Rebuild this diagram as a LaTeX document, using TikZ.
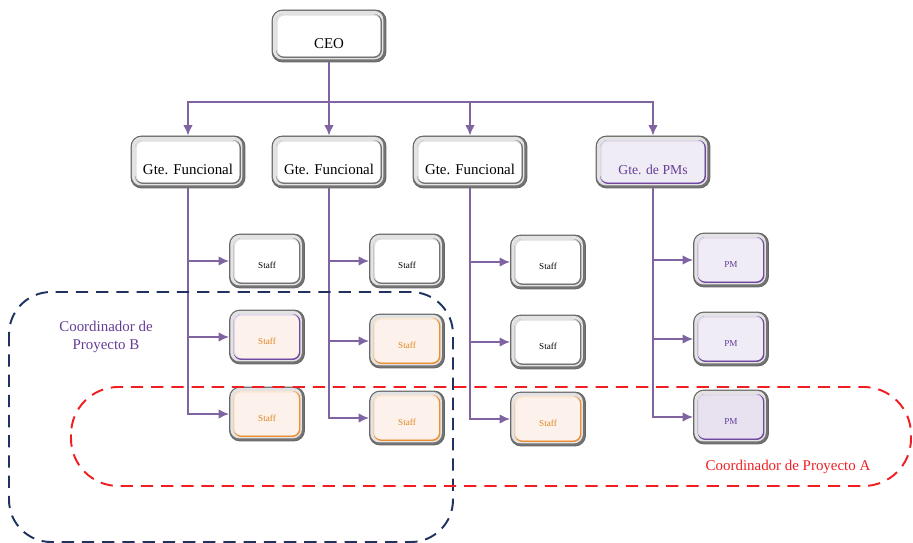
\documentclass[tikz,border=0pt]{standalone}
\usepackage{fontspec}
\setmainfont{Liberation Serif}
\usepackage{xcolor}
\usetikzlibrary{shapes,arrows,positioning,calc,arrows.meta}

\definecolor{linkpurple}{RGB}{128,100,162}
\definecolor{pmline}{RGB}{112,72,160}
\definecolor{pmfill}{RGB}{240,236,245}
\definecolor{pmtxt}{RGB}{100,60,150}
\definecolor{orline}{RGB}{236,142,52}
\definecolor{orfill}{RGB}{253,242,235}
\definecolor{ortxt}{RGB}{222,132,30}
\definecolor{projblue}{RGB}{31,50,96}
\definecolor{projred}{RGB}{240,30,35}
\colorlet{plainline}{black!55}

\begin{document}
\begin{tikzpicture}[x=0.02cm, y=-0.02cm, >={Latex[length=6pt,width=5.5pt]},
				orgbox/.style 2 args={rectangle, rounded corners=6pt, draw=black!60, line width=0.5pt, fill=black!55,
					path picture={
						\fill[gray!22, rounded corners=5pt]
							([shift={(0.5pt,1.5pt)}]path picture bounding box.south west) rectangle
							([shift={(-1.5pt,-0.5pt)}]path picture bounding box.north east);
						\fill[#2, rounded corners=4.5pt]
							([shift={(2.3pt,2.3pt)}]path picture bounding box.south west) rectangle
							([shift={(-2.3pt,-2.3pt)}]path picture bounding box.north east);
						\fill[#2!22, rounded corners=4.2pt]
							([shift={(2.3pt,3.2pt)}]path picture bounding box.south west) rectangle
							([shift={(-3.2pt,-2.3pt)}]path picture bounding box.north east);
						\fill[#1, rounded corners=3.8pt]
							([shift={(3.2pt,3.2pt)}]path picture bounding box.south west) rectangle
							([shift={(-3.2pt,-3.2pt)}]path picture bounding box.north east);
					}},
				big/.style={minimum width=2.28cm, minimum height=1.04cm, inner sep=1pt, text height=14pt, text depth=0pt, font=\fontsize{8.5}{10}\selectfont},
				small/.style={minimum width=1.5cm, minimum height=1.08cm, inner sep=1pt, text height=9pt, text depth=0pt, font=\fontsize{5.2}{6}\selectfont},
				headbox/.style={orgbox={white}{plainline}, big},
				pmhead/.style={orgbox={pmfill}{pmline}, big, text=pmtxt},
				staff/.style={orgbox={white}{plainline}, small},
				stafforange/.style={orgbox={orfill}{orline}, small, text=ortxt},
				staffmixed/.style={orgbox={orfill}{pmline}, small, text=ortxt},
				pm/.style={orgbox={pmfill}{pmline}, small, text=pmtxt},
				link/.style={draw=linkpurple, line width=1pt, ->},
				project/.style={line width=1.1pt, dash pattern=on 7pt off 4.5pt, rounded corners=#1}
				]
				\useasboundingbox (0,0) rectangle (913,543);
				
				\node[headbox] (ceo) at (329,36) {CEO};
				\node[headbox] (gte1) at (188,162) {Gte. Funcional};
				\node[headbox] (gte2) at (329,162) {Gte. Funcional};
				\node[headbox] (gte3) at (470,162) {Gte. Funcional};
				\node[pmhead, font=\fontsize{7.8}{9}\selectfont] (gtepm) at (653,162) {Gte. de PMs};
				\coordinate (bus) at (329,102);
				
				\node[staff] (s11) at (267,261) {Staff};
				\node[staffmixed] (s12) at (267,337) {Staff};
				\node[stafforange] (s13) at (267,414) {Staff};
				\node[staff] (s21) at (407,261) {Staff};
				\node[stafforange] (s22) at (407,341) {Staff};
				\node[stafforange] (s23) at (407,418) {Staff};
				\node[staff] (s31) at (548,262) {Staff};
				\node[staff] (s32) at (548,342) {Staff};
				\node[stafforange] (s33) at (548,419) {Staff};
				\node[pm] (pm1) at (731,260) {PM};
				\node[pm] (pm2) at (731,339) {PM};
				\node[pm, orgbox={pmfill!94!pmline}{pmline}] (pm3) at (731,417) {PM};
				
				\draw[link] (ceo) -- (gte2);
				\draw[link] (bus) -| (gte1);
				\draw[link] (bus) -| (gte3);
				\draw[link] (bus) -| (gtepm);
				
				\draw[link] (gte1) |- (s11);
				\draw[link] (gte1) |- (s12);
				\draw[link] (gte1) |- (s13);
				\draw[link] (gte2) |- (s21);
				\draw[link] (gte2) |- (s22);
				\draw[link] (gte2) |- (s23);
				\draw[link] (gte3) |- (s31);
				\draw[link] (gte3) |- (s32);
				\draw[link] (gte3) |- (s33);
				\draw[link] (gtepm) |- (pm1);
				\draw[link] (gtepm) |- (pm2);
				\draw[link] (gtepm) |- (pm3);
				
				\draw[project=24pt, projblue] (9,292) rectangle (453,542);
				\draw[project=27pt, projred] (71,387) rectangle (911,486);
				\node[text=pmtxt, align=center, font=\fontsize{8.5}{10}\selectfont] (projB) at (106,337) {Coordinador de\\Proyecto B};
				\node[text=projred, font=\fontsize{8.5}{10}\selectfont] (projA) at (788,467) {Coordinador de Proyecto A};
			\end{tikzpicture}
\end{document}
